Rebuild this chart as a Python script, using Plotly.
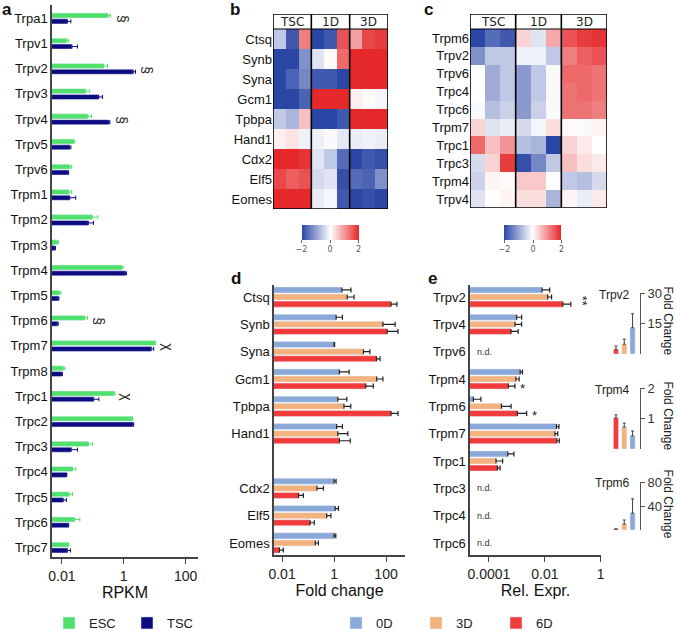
import math
import plotly.graph_objects as go

W, H = 676, 631
FONT = "Liberation Sans, Arial, sans-serif"
C_ESC = "#50e06e"
C_TSC = "#0c0c80"
C_0D = "#8aa8d8"
C_3D = "#f3b27e"
C_6D = "#f23b3b"
AXIS = "#444444"
ERR = "#222222"
HEAT = [[0, "#2b47a6"], [0.5, "#ffffff"], [1, "#e5282a"]]

# ---- panel a: RPKM in ESC vs TSC ----
a_genes = ["Trpa1", "Trpv1", "Trpv2", "Trpv3", "Trpv4", "Trpv5", "Trpv6",
           "Trpm1", "Trpm2", "Trpm3", "Trpm4", "Trpm5", "Trpm6", "Trpm7",
           "Trpm8", "Trpc1", "Trpc2", "Trpc3", "Trpc4", "Trpc5", "Trpc6", "Trpc7"]
a_esc = [0.31, 0.014, 0.22, 0.059, 0.069, 0.024, 0.018, 0.017, 0.095, 0.0071, 0.85,
         0.0082, 0.055, 10.2, 0.011, 0.48, 1.9, 0.071, 0.022, 0.017, 0.026, 0.016]
a_esc_err = [0.06, 0.0026, 0.08, 0.021, 0.022, 0.002, 0.0026, 0.0036, 0.05, 0.0006, 0.1,
             0.0011, 0.012, 0.6, 0.0015, 0.04, 0.05, 0.027, 0.006, 0.005, 0.012, 0.0005]
a_tsc = [0.015, 0.021, 2.0, 0.155, 0.33, 0.018, 0.016, 0.018, 0.071, 0.0059, 1.12,
         0.0076, 0.0071, 7.7, 0.0098, 0.107, 2.0, 0.020, 0.014, 0.011, 0.016, 0.015]
a_tsc_err = [0.0045, 0.011, 0.4, 0.05, 0.025, 0.0015, 0.0005, 0.01, 0.034, 0.0003, 0.1,
             0.0004, 0.0005, 1.6, 0.0006, 0.05, 0.1, 0.012, 0.0004, 0.003, 0.0005, 0.004]
a_mark_genes = ["Trpa1", "Trpv2", "Trpv4", "Trpm6", "Trpm7", "Trpc1"]
a_mark_text = ["§", "§", "§", "§", "χ", "χ"]

# ---- panel b / c: heatmaps (z-score) ----
hm_groups = ["TSC", "1D", "3D"]
b_genes = ["Ctsq", "Synb", "Syna", "Gcm1", "Tpbpa", "Hand1", "Cdx2", "Elf5", "Eomes"]
b_z = [
    [-0.6, -1.8, 1.2, -2.0, -1.8, 1.6, 0.9, 1.7, 1.8],
    [-2.0, -2.0, -1.2, -0.3, 0.05, 1.4, 2.0, 2.0, 2.0],
    [-2.0, -1.7, -1.3, -1.8, -1.8, -2.0, 2.0, 2.0, 2.0],
    [-2.0, -2.0, -1.7, 2.0, 2.0, 2.0, 0.15, 0.05, -0.1],
    [-0.6, -0.8, 0.6, -2.0, -2.0, -1.8, 2.0, 2.0, 2.0],
    [0.15, 0.25, -0.15, -0.15, -0.05, -0.25, -0.2, -0.15, -0.2],
    [2.0, 2.0, 1.9, -0.3, -0.6, -1.6, -2.0, -1.8, -1.9],
    [1.7, 1.5, 1.6, -0.4, -0.3, -1.9, -1.6, -1.7, -1.2],
    [2.0, 2.0, 2.0, -0.2, -0.1, -1.8, -2.0, -1.9, -2.0],
]
c_genes = ["Trpm6", "Trpv2", "Trpv6", "Trpc4", "Trpc6", "Trpm7", "Trpc1", "Trpc3", "Trpm4", "Trpv4"]
c_z = [
    [-2.0, -1.6, -1.8, 0.4, -0.3, 0.8, 1.6, 1.8, 1.9],
    [-1.2, -0.6, -0.6, -0.15, -0.15, -0.6, 1.2, 1.5, 1.6],
    [0.0, -0.9, -0.6, -1.1, -0.6, -0.05, 1.4, 1.4, 1.3],
    [0.0, -0.9, -0.6, -1.1, -0.6, -0.05, 1.3, 1.4, 1.3],
    [-0.05, -0.7, -0.5, -1.1, -0.5, -0.05, 1.3, 1.3, 1.2],
    [0.4, -0.3, -0.2, -0.4, -0.1, 0.3, 0.05, -0.05, 0.1],
    [1.4, 0.6, 1.0, -0.7, -0.8, -2.0, 0.4, 0.2, 0.0],
    [-0.4, 0.4, 1.8, -1.9, -1.3, -0.6, 0.6, 0.3, 0.2],
    [-0.5, 0.1, 0.05, 0.5, 0.5, 0.0, -0.6, -0.7, -0.4],
    [-0.3, 0.0, 0.1, 0.3, 0.3, -0.8, 0.1, -0.2, 0.2],
]

# ---- panel d: fold change of markers ----
days = ["0D", "3D", "6D"]
day_colors = [C_0D, C_3D, C_6D]
d_genes = ["Ctsq", "Synb", "Syna", "Gcm1", "Tpbpa", "Hand1", "Cdx2", "Elf5", "Eomes"]
d_vals = [
    [2.0, 1.2, 1.0, 1.6, 1.4, 1.26, 1.0, 1.1, 1.0],
    [3.2, 76, 13.5, 44, 2.4, 1.4, 0.22, 0.52, 0.19],
    [155, 110, 43, 16.6, 155, 1.6, 0.043, 0.12, 0.0079],
]
d_errs = [
    [2.5, 0.9, 0.05, 2.2, 1.7, 0.84, 0.2, 0.38, 0.17],
    [2.7, 148, 10.5, 32, 2.0, 2.0, 0.17, 0.24, 0.06],
    [108, 178, 16, 16, 133, 2.6, 0.023, 0.054, 0.0033],
]

# ---- panel e: relative expression of Trp channels ----
e_genes = ["Trpv2", "Trpv4", "Trpv6", "Trpm4", "Trpm6", "Trpm7", "Trpc1", "Trpc3", "Trpc4", "Trpc6"]
e_vals = [
    [0.0079, 0.00098, None, 0.0013, 0.0000275, 0.026, 0.00047, None, None, None],
    [0.0126, 0.00085, None, 0.00092, 0.00028, 0.023, 0.000178, None, None, None],
    [0.044, 0.00061, None, 0.00049, 0.00103, 0.027, 0.0002, None, None, None],
]
e_errs = [
    [0.007, 0.0005, None, 0.00028, 0.000024, 0.006, 0.00031, None, None, None],
    [0.0048, 0.00063, None, 0.00028, 0.00034, 0.006, 0.00013, None, None, None],
    [0.041, 0.0005, None, 0.00036, 0.0012, 0.006, 0.00005, None, None, None],
]
e_stars = {"Trpv2": "**", "Trpm4": "*", "Trpm6": "*"}

# ---- insets: fold change (6D, 3D, 0D) ----
ins_genes = ["Trpv2", "Trpm4", "Trpm6"]
ins_days = ["6D", "3D", "0D"]
ins_vals = [[2.3, 4.8, 12.9], [1.02, 0.72, 0.43], [1.7, 10, 28]]
ins_errs = [[1.6, 2.5, 6.9], [0.1, 0.13, 0.16], [0, 6.7, 24]]
ins_ticks = [[15, 30], [1, 2], [40, 80]]


def dx(x0, x1):
    return [x0 / W, x1 / W]


def dy(top, bottom):
    return [1 - bottom / H, 1 - top / H]


fig = go.Figure()

# panel a bars
for vals, errs, color, name, off in [(a_esc, a_esc_err, C_ESC, "ESC", -0.21),
                                     (a_tsc, a_tsc_err, C_TSC, "TSC", 0.02)]:
    fig.add_trace(go.Bar(
        y=a_genes, x=vals, orientation="h", name=name, marker_color=color,
        width=0.2, offset=off, xaxis="x", yaxis="y", legend="legend",
        error_x=dict(type="data", array=errs, arrayminus=[0] * len(errs),
                     symmetric=False, color=color, thickness=1, width=2)))

# heatmaps
for z, genes, ax, cb_x in [(b_z, b_genes, "2", 330), (c_z, c_genes, "3", 533)]:
    fig.add_trace(go.Heatmap(
        z=z, y=genes, x=list(range(9)), zmin=-2, zmax=2, colorscale=HEAT,
        xaxis="x" + ax, yaxis="y" + ax,
        colorbar=dict(orientation="h", x=cb_x / W, xanchor="center",
                      y=1 - 225 / H, yanchor="top", len=57, lenmode="pixels",
                      thickness=15, xpad=0, ypad=0, outlinewidth=0,
                      tickvals=[-2, 0, 2], ticks="outside", ticklen=3,
                      tickcolor="#666", tickfont=dict(size=8, color="#555",
                                                      family="DejaVu Sans"))))

# panel d and e bars
d_order = d_genes[:6] + [" "] + d_genes[6:]
offsets = [-0.37, -0.11, 0.15]
for i, day in enumerate(days):
    fig.add_trace(go.Bar(
        y=d_genes, x=d_vals[i], orientation="h", name=day, marker_color=day_colors[i],
        width=0.22, offset=offsets[i], xaxis="x4", yaxis="y4", legend="legend2",
        error_x=dict(type="data", array=d_errs[i], arrayminus=[0] * len(d_genes),
                     symmetric=False, color=ERR, thickness=1.2, width=2.5)))
    fig.add_trace(go.Bar(
        y=e_genes, x=e_vals[i], orientation="h", name=day, marker_color=day_colors[i],
        width=0.22, offset=offsets[i], xaxis="x5", yaxis="y5", showlegend=False,
        error_x=dict(type="data", array=[e if e is not None else 0 for e in e_errs[i]],
                     arrayminus=[0] * len(e_genes),
                     symmetric=False, color=ERR, thickness=1.2, width=2.5)))

# insets
ins_colors = [C_6D, C_3D, C_0D]
for k, gene in enumerate(ins_genes):
    n = str(6 + k)
    fig.add_trace(go.Bar(
        x=ins_days, y=ins_vals[k], marker_color=ins_colors, width=0.62,
        xaxis="x" + n, yaxis="y" + n, showlegend=False,
        error_y=dict(type="data", array=ins_errs[k], arrayminus=[0, 0, 0],
                     symmetric=False, color="#444", thickness=1, width=1.5)))

layout = dict(
    width=W, height=H, margin=dict(l=0, r=0, t=0, b=0, autoexpand=False),
    paper_bgcolor="white", plot_bgcolor="white",
    font=dict(family=FONT, size=13, color="#111"),
    barmode="overlay", showlegend=True,
    legend=dict(orientation="h", x=49 / W, y=1 - 623 / H, xanchor="left",
                yanchor="middle", font=dict(size=13, color="#222"),
                entrywidth=33, entrywidthmode="pixels", bgcolor="rgba(0,0,0,0)"),
    legend2=dict(orientation="h", x=336 / W, y=1 - 623 / H, xanchor="left",
                 yanchor="middle", font=dict(size=13, color="#222"),
                 entrywidth=35, entrywidthmode="pixels", bgcolor="rgba(0,0,0,0)"),
)

log_axis = dict(type="log", showline=True, linecolor=AXIS, linewidth=1.5,
                ticks="outside", ticklen=5, tickcolor=AXIS, showgrid=False,
                zeroline=False, tickfont=dict(size=14, color="#222"))
cat_axis = dict(showline=True, linecolor=AXIS, linewidth=1.5, ticks="",
                showgrid=False, zeroline=False, tickfont=dict(size=13, color="#111"))

layout["xaxis"] = dict(log_axis, domain=dx(52, 198), range=[-2.32, 2.4], anchor="y",
                       tickvals=[0.01, 1, 100], ticktext=["0.01", "1", "100"],
                       title=dict(text="RPKM", font=dict(size=16), standoff=4))
layout["yaxis"] = dict(cat_axis, domain=dy(5, 557), anchor="x",
                       categoryorder="array", categoryarray=a_genes,
                       range=[21.38, -0.53])

# heatmap axes: the top slice of each range is left empty for the group header row
hm_axes = [("2", b_genes, 273, 388, 14, 209), ("3", c_genes, 470, 607, 14, 208)]
hm_head = {}
for ax, genes, x0, x1, top, bottom in hm_axes:
    row_px = (bottom - 29) / len(genes)
    head = (29 - top) / row_px
    hm_head[ax] = head
    layout["xaxis" + ax] = dict(domain=dx(x0, x1), range=[-0.5, 8.5], anchor="y" + ax,
                                showticklabels=False, showgrid=False, zeroline=False)
    layout["yaxis" + ax] = dict(domain=dy(top, bottom), anchor="x" + ax,
                                range=[len(genes) - 0.5, -0.5 - head],
                                categoryorder="array", categoryarray=genes, ticks="",
                                showgrid=False, zeroline=False,
                                tickfont=dict(size=13, color="#111"))

layout["xaxis4"] = dict(log_axis, domain=dx(274, 405), range=[-2.31, 2.73], anchor="y4",
                        tickvals=[0.01, 1, 100], ticktext=["0.01", "1", "100"],
                        title=dict(text="Fold change", font=dict(size=16), standoff=4))
layout["yaxis4"] = dict(cat_axis, domain=dy(285, 555), anchor="x4",
                        categoryorder="array", categoryarray=d_order, range=[9.44, -0.44])
layout["xaxis5"] = dict(log_axis, domain=dx(470, 601), range=[-4.68, 0.01], anchor="y5",
                        tickvals=[0.0001, 0.01, 1], ticktext=["0.0001", "0.01", "1"],
                        title=dict(text="Rel. Expr.", font=dict(size=16), standoff=4))
layout["yaxis5"] = dict(cat_axis, domain=dy(285, 555), anchor="x5",
                        categoryorder="array", categoryarray=e_genes, range=[9.44, -0.44])

ins_px = [(293, 354), (388, 449), (482, 530)]
for k, gene in enumerate(ins_genes):
    n = str(6 + k)
    top, bottom = ins_px[k]
    layout["xaxis" + n] = dict(domain=dx(611, 640), range=[-0.6, 2.9], anchor="y" + n,
                               visible=False, categoryorder="array", categoryarray=ins_days)
    layout["yaxis" + n] = dict(domain=dy(top, bottom), range=[0, ins_ticks[k][-1]],
                               anchor="x" + n, side="right", showline=True,
                               linecolor="#555", linewidth=1, ticks="outside", ticklen=4,
                               tickcolor="#555", tickvals=ins_ticks[k], showgrid=False,
                               zeroline=False, tickfont=dict(size=13, color="#333"))

fig.update_layout(**layout)

shapes, annotations = [], []

# heatmap frames, group dividers and header labels
for ax, genes, *_ in hm_axes:
    head = hm_head[ax]
    y_top, y_mid, y_bot = -0.5 - head, -0.5, len(genes) - 0.5
    line = dict(color="black", width=1.6)
    shapes.append(dict(type="rect", xref="x" + ax, yref="y" + ax,
                       x0=-0.5, x1=8.5, y0=y_top, y1=y_mid, fillcolor="white",
                       line=dict(width=0), layer="above"))
    shapes.append(dict(type="rect", xref="x" + ax, yref="y" + ax,
                       x0=-0.5, x1=8.5, y0=y_top, y1=y_bot, line=line))
    shapes.append(dict(type="line", xref="x" + ax, yref="y" + ax,
                       x0=-0.5, x1=8.5, y0=y_mid, y1=y_mid, line=dict(color="black", width=1)))
    for g in range(1, len(hm_groups)):
        shapes.append(dict(type="line", xref="x" + ax, yref="y" + ax,
                           x0=3 * g - 0.5, x1=3 * g - 0.5, y0=y_top, y1=y_bot, line=line))
    for g, label in enumerate(hm_groups):
        annotations.append(dict(text=label, xref="x" + ax, yref="y" + ax,
                                x=3 * g + 1, y=(y_top + y_mid) / 2, showarrow=False,
                                font=dict(family="DejaVu Sans", size=12, color="#222")))

# significance marks in panel a
for gene, sym in zip(a_mark_genes, a_mark_text):
    i = a_genes.index(gene)
    end = max(a_esc[i] + a_esc_err[i], a_tsc[i] + a_tsc_err[i])
    annotations.append(dict(text=sym, xref="x", yref="y", x=math.log10(end), y=gene,
                            xshift=12, yshift=-1, textangle=90, showarrow=False,
                            font=dict(size=14, color="#222")))

# n.d. labels and stars in panel e
for j, gene in enumerate(e_genes):
    if e_vals[0][j] is None:
        annotations.append(dict(text="n.d.", xref="x5 domain", yref="y5", x=0.04, y=gene,
                                xanchor="left", showarrow=False,
                                font=dict(size=9, color="#333")))
for gene, star in e_stars.items():
    j = e_genes.index(gene)
    end = e_vals[2][j] + e_errs[2][j]
    annotations.append(dict(text=star, xref="x5", yref="y5", x=math.log10(end), y=gene,
                            xanchor="left", xshift=3, yshift=-9 if star == "*" else -4,
                            textangle=90 if star == "**" else 0, showarrow=False,
                            font=dict(size=13, color="#222")))

# inset labels
for k, gene in enumerate(ins_genes):
    n = str(6 + k)
    annotations.append(dict(text=gene, xref="x" + n + " domain", yref="y" + n + " domain",
                            x=0.72, y=0.97, xanchor="right", yanchor="middle",
                            showarrow=False, font=dict(size=12, color="#222")))
    annotations.append(dict(text="Fold Change", xref="paper", yref="y" + n + " domain",
                            x=668 / W, y=0.55, xanchor="center", yanchor="middle",
                            textangle=90, showarrow=False,
                            font=dict(size=12, color="#222")))

# panel letters
for letter, x, y in [("a", 7, 10), ("b", 235, 10), ("c", 428, 10), ("d", 236, 278), ("e", 432, 278)]:
    annotations.append(dict(text="<b>%s</b>" % letter, xref="paper", yref="paper",
                            x=x / W, y=1 - y / H, xanchor="center", yanchor="middle",
                            showarrow=False, font=dict(size=17, color="#111")))

fig.update_layout(shapes=shapes, annotations=annotations)
# the page body has a default 8px margin; drop it so the figure sits at 0,0
fig.write_html("out.html", config={"displayModeBar": False},
               post_script="document.body.style.margin='0';")
